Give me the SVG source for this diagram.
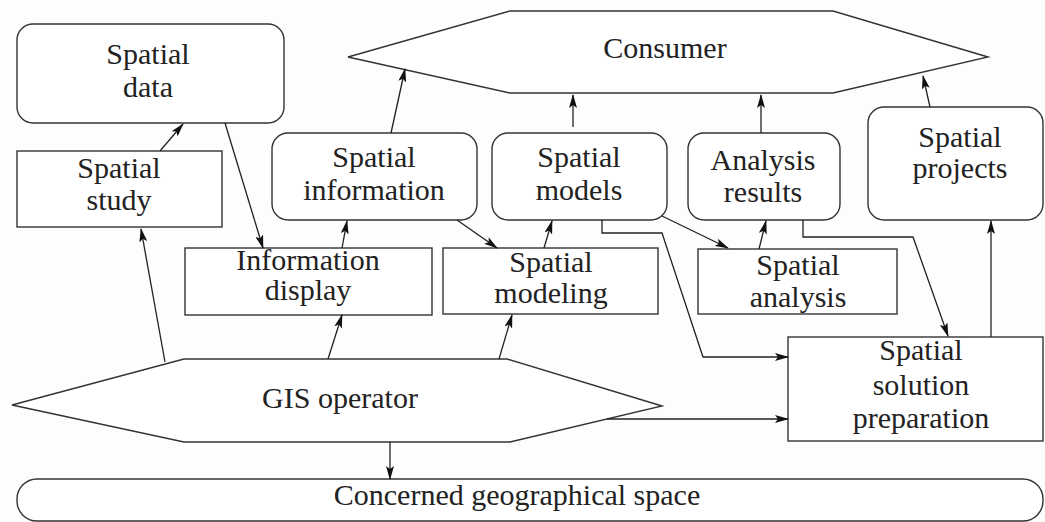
<svg xmlns="http://www.w3.org/2000/svg" width="1045" height="522" viewBox="0 0 1045 522">
<defs>
<style>
.n{fill:#fff;stroke:#333;stroke-width:1.4}
.t{font-family:"Liberation Serif","Times New Roman",serif;font-size:30px;fill:#222;text-anchor:middle}
.c{fill:none;stroke:#222;stroke-width:1.3}
</style>
<marker id="a" markerWidth="14" markerHeight="8" refX="13" refY="4" orient="auto" markerUnits="userSpaceOnUse">
<path d="M0,0 L14,4 L0,8 L3,4 Z" fill="#111"/>
</marker>
</defs>
<rect width="1045" height="522" fill="#fdfdfd"/>
<g id="consumer"><polygon class="n" points="348,57 510,11 833,11 988,57 833,93 510,93"/><text class="t" x="665" y="58">Consumer</text></g>
<g id="spatial-data"><rect class="n" x="17" y="24" width="267" height="99" rx="16"/><text class="t" x="148" y="64">Spatial</text><text class="t" x="148" y="97">data</text></g>
<g id="spatial-study"><rect class="n" x="17" y="151" width="205" height="76"/><text class="t" x="119" y="178">Spatial</text><text class="t" x="119" y="210">study</text></g>
<g id="spatial-information"><rect class="n" x="272" y="133" width="205" height="87" rx="16"/><text class="t" x="374" y="167">Spatial</text><text class="t" x="374" y="200">information</text></g>
<g id="spatial-models"><rect class="n" x="492" y="133" width="175" height="87" rx="16"/><text class="t" x="579" y="167">Spatial</text><text class="t" x="579" y="200">models</text></g>
<g id="analysis-results"><rect class="n" x="688" y="133" width="152" height="87" rx="16"/><text class="t" x="763" y="170">Analysis</text><text class="t" x="763" y="202">results</text></g>
<g id="spatial-projects"><rect class="n" x="868" y="107" width="175" height="113" rx="16"/><text class="t" x="960" y="147">Spatial</text><text class="t" x="960" y="178">projects</text></g>
<g id="information-display"><rect class="n" x="185" y="248" width="247" height="67"/><text class="t" x="308" y="270">Information</text><text class="t" x="308" y="300">display</text></g>
<g id="spatial-modeling"><rect class="n" x="443" y="248" width="215" height="66"/><text class="t" x="551" y="272">Spatial</text><text class="t" x="551" y="303">modeling</text></g>
<g id="spatial-analysis"><rect class="n" x="698" y="249" width="199" height="65"/><text class="t" x="798" y="275">Spatial</text><text class="t" x="798" y="307">analysis</text></g>
<g id="spatial-solution-preparation"><rect class="n" x="788" y="337" width="255" height="104"/><text class="t" x="921" y="360">Spatial</text><text class="t" x="921" y="395">solution</text><text class="t" x="921" y="428">preparation</text></g>
<g id="gis-operator"><polygon class="n" points="12,405 184,359 507,359 662,406 510,442 184,442"/><text class="t" x="340" y="408">GIS operator</text></g>
<g id="concerned-space"><rect class="n" x="17" y="479" width="1026" height="42" rx="20"/><text class="t" x="517" y="505">Concerned geographical space</text></g>
<g id="connectors">
<line class="c" x1="160" y1="151" x2="183" y2="124" marker-end="url(#a)"/>
<line class="c" x1="225" y1="123" x2="263" y2="248" marker-end="url(#a)"/>
<line class="c" x1="165" y1="362" x2="141" y2="229" marker-end="url(#a)"/>
<line class="c" x1="328" y1="359" x2="342" y2="315" marker-end="url(#a)"/>
<line class="c" x1="499" y1="359" x2="512" y2="315" marker-end="url(#a)"/>
<line class="c" x1="390" y1="442" x2="390" y2="479" marker-end="url(#a)"/>
<line class="c" x1="607" y1="419" x2="788" y2="419" marker-end="url(#a)"/>
<line class="c" x1="342" y1="248" x2="347" y2="221" marker-end="url(#a)"/>
<line class="c" x1="391" y1="133" x2="405" y2="69" marker-end="url(#a)"/>
<line class="c" x1="457" y1="220" x2="497" y2="248" marker-end="url(#a)"/>
<line class="c" x1="544" y1="248" x2="552" y2="221" marker-end="url(#a)"/>
<line class="c" x1="573" y1="127" x2="573" y2="95" marker-end="url(#a)"/>
<polyline class="c" points="602,220 602,233 662,233 703,357 788,357" marker-end="url(#a)"/>
<line class="c" x1="662" y1="216" x2="728" y2="248" marker-end="url(#a)"/>
<line class="c" x1="759" y1="249" x2="766" y2="221" marker-end="url(#a)"/>
<line class="c" x1="761" y1="133" x2="761" y2="95" marker-end="url(#a)"/>
<polyline class="c" points="803,220 803,237 913,237 948,336" marker-end="url(#a)"/>
<line class="c" x1="991" y1="337" x2="991" y2="221" marker-end="url(#a)"/>
<line class="c" x1="930" y1="107" x2="923" y2="76" marker-end="url(#a)"/>
</g>
</svg>
